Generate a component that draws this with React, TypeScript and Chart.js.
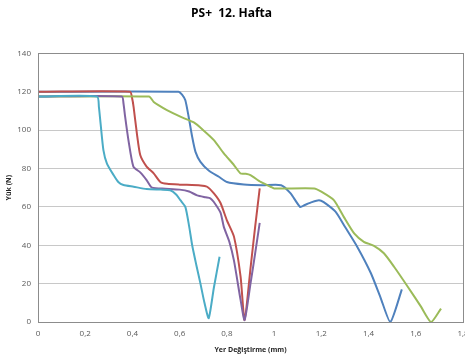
import React, { useEffect, useRef } from "react";
import { Chart, registerables } from "chart.js";

Chart.register(...registerables);

const TITLE = "PS+  12. Hafta";
const X_TITLE = "Yer Değiştirme (mm)";
const Y_TITLE = "Yük (N)";

const tealX = [0, 0.25, 0.258, 0.265, 0.277, 0.292, 0.32, 0.34, 0.362, 0.405, 0.46, 0.52, 0.56, 0.585, 0.603, 0.624, 0.64, 0.653, 0.67, 0.688, 0.705, 0.723, 0.745, 0.769];
const tealY = [117.5, 117.5, 112, 103.5, 89.6, 82.6, 76.6, 73, 71.4, 70.5, 69.3, 69, 68.7, 66.5, 63.5, 60, 50, 40, 30, 20, 10, 2, 18, 34];

const purpleX = [0, 0.355, 0.362, 0.369, 0.383, 0.404, 0.433, 0.46, 0.483, 0.54, 0.6, 0.64, 0.674, 0.71, 0.73, 0.744, 0.773, 0.787, 0.81, 0.83, 0.858, 0.875, 0.9, 0.92, 0.939];
const purpleY = [117.5, 117.5, 114, 107, 94.8, 81, 78, 74, 70, 69.5, 69, 68, 66, 65, 64.5, 62.7, 57, 49.6, 42, 32, 11.5, 1, 20, 36, 51.7];

const redX = [0, 0.39, 0.398, 0.405, 0.419, 0.433, 0.46, 0.49, 0.518, 0.547, 0.6, 0.688, 0.716, 0.745, 0.773, 0.8, 0.83, 0.858, 0.875, 0.9, 0.92, 0.939];
const redY = [120, 120, 117, 112, 98, 87, 81, 77.5, 73, 72, 71.6, 71.2, 70.5, 67, 62, 53, 44.5, 23.6, 1, 28, 50, 69.6];

const blueX = [0, 0.595, 0.61, 0.624, 0.638, 0.653, 0.667, 0.688, 0.723, 0.766, 0.8, 0.872, 0.95, 1.03, 1.07, 1.11, 1.13, 1.16, 1.19, 1.21, 1.26, 1.3, 1.353, 1.41, 1.45, 1.492, 1.541];
const blueY = [120, 120, 118.5, 115.6, 107, 96.5, 88.7, 83.5, 79, 75.7, 73, 71.7, 71.3, 71.3, 67, 60, 61, 62.5, 63.5, 62.5, 57.5, 49.6, 39, 25.4, 13, 0, 17];

const greenX = [0, 0.47, 0.49, 0.51, 0.546, 0.603, 0.66, 0.7, 0.745, 0.787, 0.83, 0.858, 0.88, 0.9, 0.943, 0.985, 1.0, 1.17, 1.2, 1.253, 1.295, 1.34, 1.38, 1.423, 1.465, 1.508, 1.566, 1.622, 1.665, 1.707];
const greenY = [117.5, 117.5, 114.7, 113, 110.4, 107, 104, 100, 94.8, 87.9, 81.8, 77.4, 77.3, 76.6, 73, 70.5, 69.6, 69.6, 67.9, 63.5, 54.8, 46, 41.8, 39.7, 35.8, 28.8, 18.4, 8, 0, 7];

const X_MIN = 0;
const X_MAX = 1.8;
const X_STEP = 0.2;
const Y_MIN = 0;
const Y_MAX = 140;
const Y_STEP = 20;

const toPts = (xs: number[], ys: number[]) => xs.map((x, i) => ({ x, y: ys[i] }));

const fmt = (v: number) => String(Math.round(v * 10) / 10).replace(".", ",");

const frame = {
  id: "frame",
  afterDatasetsDraw(chart: any) {
    const { ctx, chartArea } = chart;
    ctx.save();
    ctx.strokeStyle = "#8c8c8c";
    ctx.lineWidth = 1;
    ctx.strokeRect(
      Math.round(chartArea.left) + 0.5,
      Math.round(chartArea.top) + 0.5,
      Math.round(chartArea.right - chartArea.left),
      Math.round(chartArea.bottom - chartArea.top)
    );
    ctx.restore();
  },
};

export default function App() {
  const ref = useRef<HTMLCanvasElement | null>(null);

  useEffect(() => {
    document.body.style.margin = "0";
    const ds = (label: string, xs: number[], ys: number[], color: string) => ({
      label,
      data: toPts(xs, ys),
      borderColor: color,
      backgroundColor: color,
      borderWidth: 2,
      pointRadius: 0,
      tension: 0.2,
      fill: false,
    });
    const chart = new Chart(ref.current as HTMLCanvasElement, {
      type: "line",
      data: {
        datasets: [
          ds("5", tealX, tealY, "#4BACC6"),
          ds("4", purpleX, purpleY, "#8064A2"),
          ds("3", greenX, greenY, "#9BBB59"),
          ds("2", redX, redY, "#C0504D"),
          ds("1", blueX, blueY, "#4F81BD"),
        ],
      },
      options: {
        animation: false,
        responsive: false,
        maintainAspectRatio: false,
        layout: { padding: { left: 0, right: 2, top: 0, bottom: 0 } },
        plugins: {
          legend: { display: false },
          tooltip: { enabled: false },
          title: {
            display: true,
            text: TITLE,
            color: "#000000",
            font: { family: "'Open Sans', sans-serif", size: 12, weight: "bold" },
            padding: { top: 6, bottom: 33 },
          },
        },
        scales: {
          x: {
            type: "linear",
            min: X_MIN,
            max: X_MAX,
            grid: { display: false, drawTicks: false },
            border: { display: true, color: "#8c8c8c" },
            ticks: {
              stepSize: X_STEP,
              padding: 7,
              color: "#595959",
              font: { family: "'Open Sans', sans-serif", size: 8 },
              maxRotation: 0,
              autoSkip: false,
              callback: (v: any) => fmt(Number(v)),
            },
            title: {
              display: true,
              text: X_TITLE,
              color: "#262626",
              font: { family: "'Open Sans', sans-serif", size: 7, weight: "bold" },
              padding: { top: 1, bottom: 0 },
            },
            afterFit: (s: any) => {
              s.height = 32;
              s.paddingLeft = 0;
              s.paddingRight = 0;
            },
          },
          y: {
            type: "linear",
            min: Y_MIN,
            max: Y_MAX,
            grid: { color: "#c8c8c8", drawTicks: false },
            border: { display: true, color: "#8c8c8c" },
            ticks: {
              stepSize: Y_STEP,
              padding: 7,
              color: "#595959",
              font: { family: "'Open Sans', sans-serif", size: 8 },
            },
            title: {
              display: true,
              text: Y_TITLE,
              color: "#262626",
              font: { family: "'Open Sans', sans-serif", size: 7, weight: "bold" },
              padding: { top: 5, bottom: 0 },
            },
            afterFit: (s: any) => {
              s.width = 38;
              s.paddingTop = 0;
              s.paddingBottom = 0;
            },
          },
        },
      },
      plugins: [frame],
    });
    return () => chart.destroy();
  }, []);

  return (
    <div style={{ width: 465, height: 354, background: "#ffffff" }}>
      <canvas ref={ref} width={465} height={354} style={{ display: "block" }} />
    </div>
  );
}
